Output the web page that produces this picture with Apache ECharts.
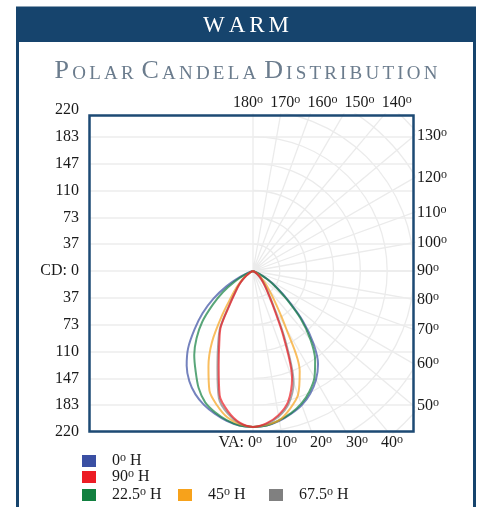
<!DOCTYPE html>
<html><head><meta charset="utf-8">
<script src="https://cdn.jsdelivr.net/npm/echarts@6/dist/echarts.min.js"></script>
<style>html,body{margin:0;padding:0;background:#fff}#c{width:479px;height:507px}</style>
</head><body><div id="c"></div>
<script>
// ---- data ----
const VA = [0, 5, 10, 15, 20, 25, 30, 35, 40, 45, 50, 55, 60, 65, 70, 75, 80];
const seriesNames = ['0° H', '90° H', '22.5° H', '45° H', '67.5° H'];
const seriesColors = ['#3a4fa3', '#ec1c24', '#128040', '#f7a21b', '#808080'];
const blueLeft   = [213, 212, 208, 202, 195, 186, 174, 158, 138, 113, 90, 66, 42, 20, 6, 0, 0];
const blueRight  = [213, 212, 208, 202, 195, 185, 172, 155, 128, 96, 63, 40, 24, 10, 0, 0, 0];
const redLeft    = [213, 208, 195, 176, 137, 109, 88, 54, 37, 27, 18, 11, 6, 2, 0, 0, 0];
const redRight   = [213, 209, 200, 185, 156, 98, 54, 34, 23, 16, 10, 6, 3, 1, 0, 0, 0];
const greenLeft  = [213, 212, 207, 200, 191, 176, 157, 140, 120, 98, 72, 50, 29, 12, 0, 0, 0];
const greenRight = [213, 212, 207, 201, 193, 182, 168, 148, 122, 92, 60, 38, 22, 8, 0, 0, 0];
const orangeLeft = [213, 210, 203, 190, 174, 144, 112, 73, 46, 32, 21, 13, 6, 2, 0, 0, 0];
const orangeRight= [213, 211, 207, 195, 180, 151, 90, 54, 35, 24, 15, 9, 5, 2, 0, 0, 0];
const grayLeft   = [213, 209, 198, 180, 142, 113, 90, 56, 38, 28, 18, 11, 6, 2, 0, 0, 0];
const grayRight  = [213, 210, 202, 188, 162, 104, 58, 36, 25, 17, 11, 6, 3, 1, 0, 0, 0];
const cdTickLabels = ['220', '183', '147', '110', '73', '37', 'CD: 0', '37', '73', '110', '147', '183', '220'];
const topAngleLabels = ['180°', '170°', '160°', '150°', '140°'];
const rightAngleLabels = ['130°', '120°', '110°', '100°', '90°', '80°', '70°', '60°', '50°'];
const bottomAngleLabels = ['VA: 0°', '10°', '20°', '30°', '40°'];
const titleText = 'WARM';
const subtitleText = 'Polar Candela Distribution';
const CD_MAX = 220;

// ---- layout ----
const CX = 253, CY = 271, R = 161;
const FONT = "'Liberation Serif', 'DejaVu Serif', serif";
const NAVY = '#16446d';
const STEP = CD_MAX / 6;

function loop(left, right) {
  const d = [];
  for (let i = VA.length - 1; i >= 0; i--) d.push([left[i], 360 - VA[i]]);
  for (let i = 1; i < VA.length; i++) d.push([right[i], VA[i]]);
  return d;
}
const curves = [
  { name: seriesNames[0], color: seriesColors[0], data: loop(blueLeft, blueRight) },
  { name: seriesNames[2], color: seriesColors[2], data: loop(greenLeft, greenRight) },
  { name: seriesNames[3], color: seriesColors[3], data: loop(orangeLeft, orangeRight) },
  { name: seriesNames[4], color: seriesColors[4], data: loop(grayLeft, grayRight) },
  { name: seriesNames[1], color: seriesColors[1], data: loop(redLeft, redRight) }
];

const degRich = {
  n: { fontSize: 16, fontFamily: FONT, lineHeight: 18, fill: '#1a1a1a', color: '#1a1a1a' },
  o: { fontSize: 12, fontFamily: FONT, lineHeight: 12, verticalAlign: 'top', fill: '#1a1a1a', color: '#1a1a1a' }
};
function deg(s) {
  const p = s.split('°');
  return '{n|' + p[0] + '}{o|o}' + (p[1] ? '{n|' + p[1] + '}' : '');
}
function spaced(str, big, small) {
  return str.split('').map(ch => ch === ' ' ? '{sp| }' :
    (ch === ch.toUpperCase() ? '{' + big + '|' + ch + '}' : '{' + small + '|' + ch.toUpperCase() + '}')).join('');
}

const graphics = [];
// covers to clip the polar grid to the box
graphics.push({ type: 'rect', z: 50, shape: { x: 89, y: 42, width: 384, height: 71.5 }, style: { fill: '#fff' } });
graphics.push({ type: 'rect', z: 50, shape: { x: 415.5, y: 42, width: 58, height: 465 }, style: { fill: '#fff' } });
graphics.push({ type: 'rect', z: 50, shape: { x: 89, y: 433.5, width: 384, height: 74 }, style: { fill: '#fff' } });
// frame
graphics.push({ type: 'rect', z: 60, shape: { x: 17.5, y: 8, width: 457, height: 520 }, style: { fill: 'none', stroke: NAVY, lineWidth: 3 } });
graphics.push({ type: 'rect', z: 60, shape: { x: 16, y: 7, width: 460, height: 35 }, style: { fill: NAVY } });
// plot box
graphics.push({ type: 'rect', z: 60, shape: { x: 89.5, y: 115.5, width: 324, height: 316 }, style: { fill: 'none', stroke: '#1d4a74', lineWidth: 2.5 } });
// title
graphics.push({ type: 'text', z: 70, x: 246, y: 25.5, style: {
  text: spaced(titleText, 'T', 'T'), align: 'center', verticalAlign: 'middle',
  rich: { T: { fontSize: 23, fontFamily: FONT, fill: '#fff', color: '#fff', padding: [0, 2] } } } });
// subtitle
graphics.push({ type: 'text', z: 70, x: 246, y: 71, style: {
  text: spaced(subtitleText, 'B', 's'), align: 'center', verticalAlign: 'middle',
  rich: {
    B: { fontSize: 26, fontFamily: FONT, lineHeight: 26, verticalAlign: 'bottom', fill: '#6b7c8d', color: '#6b7c8d', padding: [0, 1.6] },
    s: { fontSize: 19, fontFamily: FONT, lineHeight: 26, verticalAlign: 'bottom', fill: '#6b7c8d', color: '#6b7c8d', padding: [0, 1.6] },
    sp: { fontSize: 19, fontFamily: FONT, lineHeight: 26, verticalAlign: 'bottom', fill: '#6b7c8d', color: '#6b7c8d' }
  } } });
// top angle labels
topAngleLabels.forEach((t, i) => {
  graphics.push({ type: 'text', z: 70, x: 248 + i * 37.2, y: 103, style: { text: deg(t), align: 'center', verticalAlign: 'middle', rich: degRich } });
});
// right angle labels (placed where the ray meets the box edge)
rightAngleLabels.forEach((t) => {
  const a = parseFloat(t);
  const y = CY + R * Math.tan((90 - a) * Math.PI / 180);
  graphics.push({ type: 'text', z: 70, x: 417, y: y, style: { text: deg(t), align: 'left', verticalAlign: 'middle', rich: degRich } });
});
// bottom angle labels
const bottomX = [262, 286, 321, 357, 392];
bottomAngleLabels.forEach((t, i) => {
  graphics.push({ type: 'text', z: 70, x: bottomX[i], y: 443, style: { text: deg(t), align: i === 0 ? 'right' : 'center', verticalAlign: 'middle', rich: degRich } });
});

const legendPos = [[82, 452], [82, 468], [82, 486], [178, 486], [269, 486]];
const legends = seriesNames.map((n, i) => ({
  data: [n], left: legendPos[i][0], top: legendPos[i][1], padding: 0, z: 70,
  icon: 'rect', itemWidth: 14, itemHeight: 12, selectedMode: false,
  formatter: deg,
  textStyle: { padding: [0, 0, 0, 11], rich: {
    n: { fontSize: 16, fontFamily: FONT, lineHeight: 18, color: '#1a1a1a' },
    o: { fontSize: 12, fontFamily: FONT, lineHeight: 12, verticalAlign: 'top', color: '#1a1a1a' } } }
}));

const chart = echarts.init(document.getElementById('c'), null, { renderer: 'canvas' });
chart.setOption({
  animation: false,
  backgroundColor: '#fff',
  grid: { left: 89, right: 479 - 414, top: CY - R, height: 2 * R },
  xAxis: { type: 'value', min: 0, max: 1, show: false },
  yAxis: {
    type: 'value', min: -CD_MAX, max: CD_MAX, interval: STEP,
    axisLine: { show: false }, axisTick: { show: false },
    axisLabel: { margin: 10, fontSize: 16, fontFamily: FONT, color: '#1a1a1a',
      formatter: v => cdTickLabels[Math.round((CD_MAX - v) / STEP)] },
    splitLine: { lineStyle: { color: '#ececec', width: 1.5 } }
  },
  polar: [
    { center: [CX, CY], radius: R * 8 / 6 },
    { center: [CX, CY], radius: R }
  ],
  angleAxis: [
    { polarIndex: 0, type: 'value', min: 0, max: 180, interval: 10, startAngle: 270, endAngle: 450, clockwise: false,
      axisLine: { show: false }, axisTick: { show: false }, axisLabel: { show: false },
      splitLine: { show: true, lineStyle: { color: '#ebebeb', width: 1.3 } } },
    { polarIndex: 1, type: 'value', min: 0, max: 360, startAngle: 270, clockwise: false, show: false }
  ],
  radiusAxis: [
    { polarIndex: 0, type: 'value', min: 0, max: STEP * 8, interval: STEP,
      axisLine: { show: false }, axisTick: { show: false }, axisLabel: { show: false },
      splitLine: { show: true, lineStyle: { color: '#ebebeb', width: 1.3 } } },
    { polarIndex: 1, type: 'value', min: 0, max: CD_MAX, show: false }
  ],
  legend: legends,
  series: curves.map(c => ({
    type: 'line', name: c.name, coordinateSystem: 'polar', polarIndex: 1,
    data: c.data, showSymbol: false, smooth: 0.3, color: c.color,
    itemStyle: { color: c.color },
    lineStyle: { width: 2, color: c.color, opacity: 0.7 }
  })),
  graphic: graphics
});
</script></body></html>
